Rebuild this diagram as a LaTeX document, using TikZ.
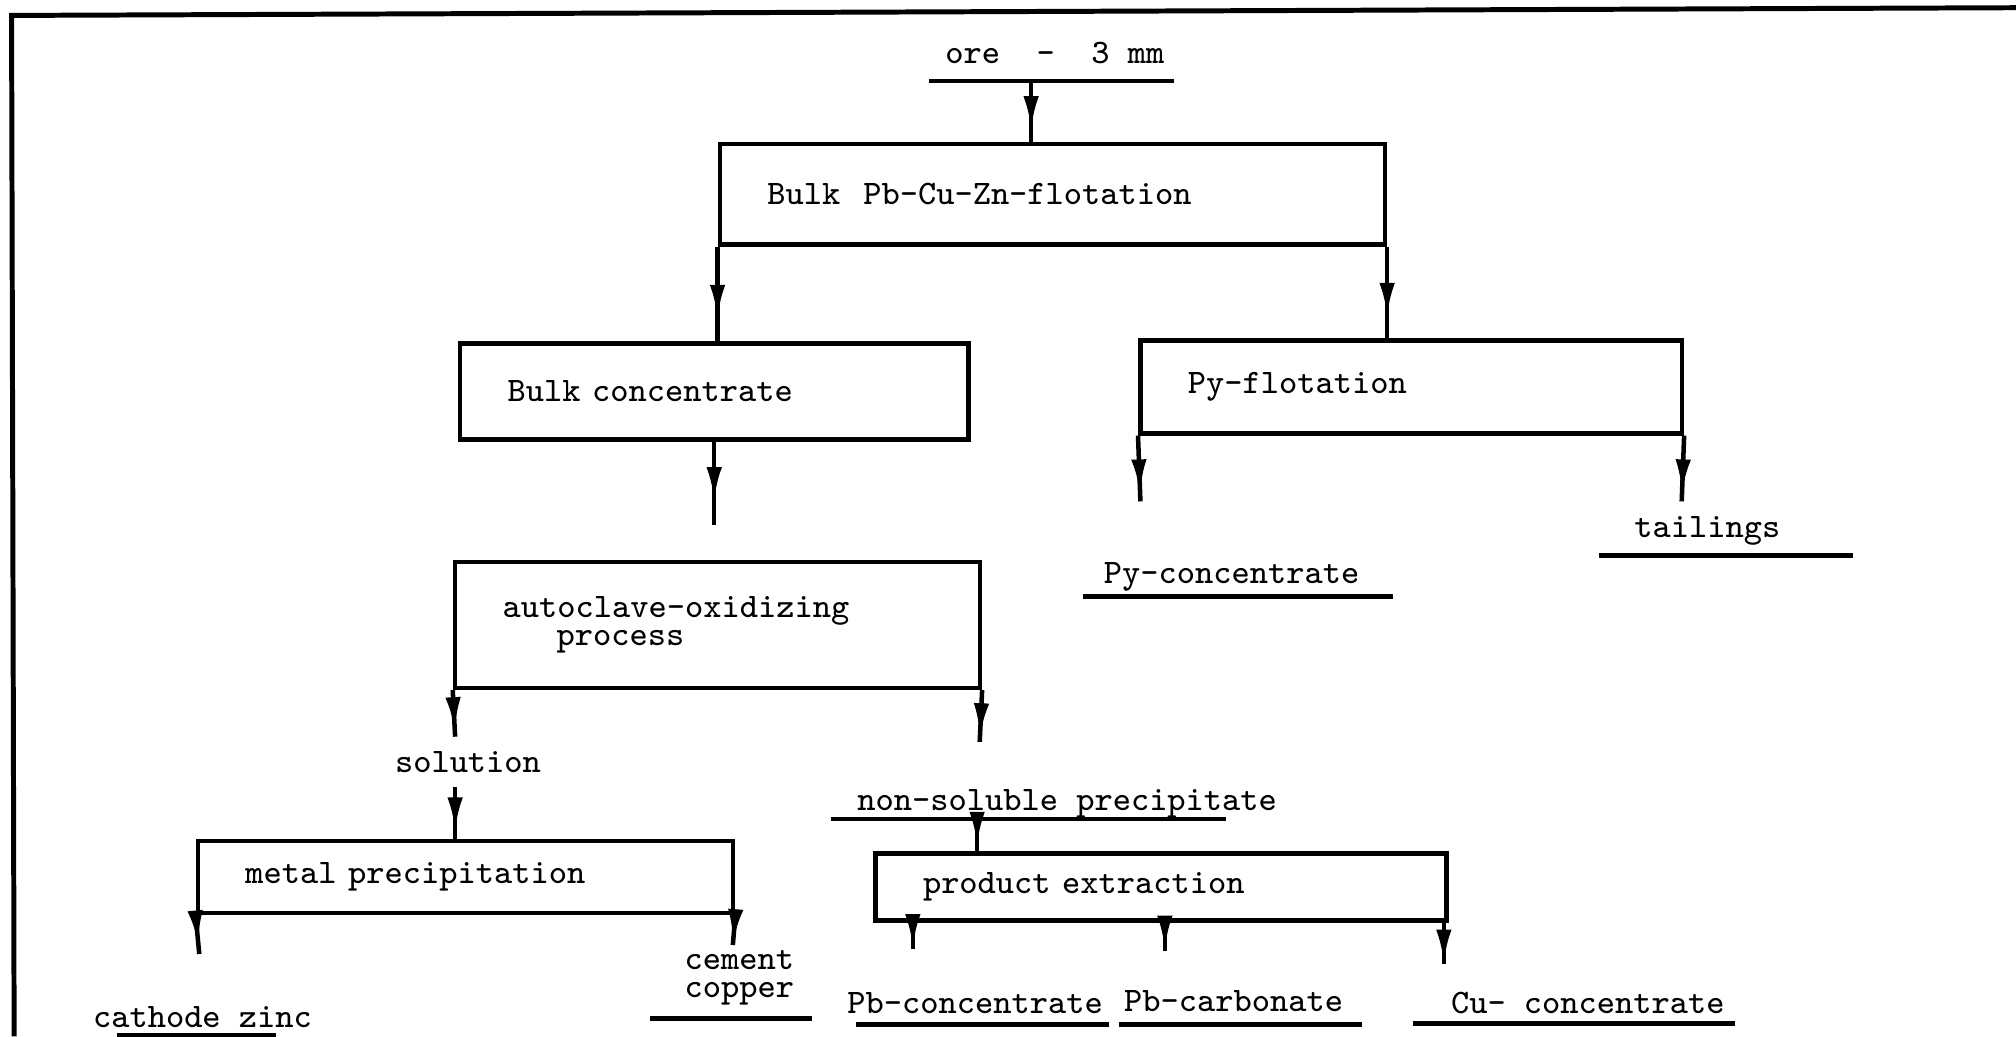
\documentclass[tikz,border=0pt]{standalone}
\usepackage{tikz}
\usetikzlibrary{arrows.meta, calc, positioning, decorations.markings}

\begin{document}
\begin{tikzpicture}[
		x=0.01cm, y=-0.01cm,
		proc/.style={draw, line width=1pt, inner xsep=0.37cm, inner ysep=0pt, align=left,
			font=\ttfamily\fontsize{7.6}{6.2}\selectfont},
		prod/.style={inner sep=0pt, anchor=base, align=center,
			font=\ttfamily\fontsize{7.6}{6.2}\selectfont},
		uline/.style n args={3}{append after command={
			([xshift=#1cm,yshift=-#3cm]\tikzlastnode.base west) edge[-, line width=1.1pt]
			([xshift=#2cm,yshift=-#3cm]\tikzlastnode.base east)}},
		flow/.style={line width=1pt, postaction={decorate},
			decoration={markings, mark=at position #1 with {\arrow{Latex[length=2.6mm,width=1.2mm]}}}},
		flow/.default=0.8,
		frame/.style={line width=1.1pt}
		]
	\useasboundingbox (0,0) rectangle (1568,806);

	% --- cadre ---
	\draw[frame] (11,806) -- (9,12) -- (1568,6);

	% --- boites ---
	\node[proc, text width=4.43cm, minimum height=0.78cm] (flot) at (818.5,151) {Bulk~~Pb-Cu-Zn-flotation};
	\node[proc, text width=3.21cm, minimum height=0.75cm] (conc) at (555.5,304.5) {Bulk concentrate};
	\node[proc, text width=3.47cm, minimum height=0.72cm] (pyflot) at (1097.5,301) {Py-flotation};
	\node[proc, text width=3.34cm, minimum height=0.98cm] (auto) at (558,486) {autoclave-oxidizing\\\hspace*{0.42cm}process};
	\node[proc, text width=3.42cm, minimum height=0.56cm] (metal) at (362,682) {metal precipitation};
	\node[proc, text width=3.70cm, minimum height=0.52cm] (extract) at (903,690) {product extraction};

	% --- produits ---
	\node[prod, uline={-0.12}{0.07}{0.14}] (ore) at (820.5,49) {ore~~-~~3~mm};
	\node[prod, uline={-0.16}{0.25}{0.10}] (pyconc) at (958,454) {Py-concentrate};
	\node[prod, uline={-0.27}{0.56}{0.14}] (tail) at (1328,418) {tailings};
	\node[prod] (solution) at (364,601) {solution};
	\node[prod, uline={-0.20}{-0.40}{0.07}] (nonsol) at (830,630) {non-soluble precipitate};
	\node[prod, uline={0.19}{-0.29}{0.065}] (zinc) at (157.5,799) {cathode zinc};
	\node[prod, uline={-0.26}{0.13}{0.16}] (cement) at (575,776) {cement\\copper};
	\node[prod, uline={0.07}{0.04}{0.09}] (pbconc) at (758.5,788) {Pb-concentrate};
	\node[prod, uline={-0.03}{0.14}{0.10}] (pbcarb) at (959.5,787) {Pb-carbonate};
	\node[prod, uline={-0.29}{0.07}{0.08}] (cuconc) at (1235,788) {Cu- concentrate};

	% bouts libres des fleches
	\coordinate (orefoot) at (802,63);
	\coordinate (bulkend) at (558,408);
	\coordinate (pyend) at (887,390);
	\coordinate (tailend) at (1308,390);
	\coordinate (solend) at (354,573);
	\coordinate (precend) at (762,577);
	\coordinate (solfoot) at (354,612);
	\coordinate (precfoot) at (760,638);
	\coordinate (zincend) at (155,742);
	\coordinate (cementend) at (570,735);
	\coordinate (pbend) at (710,738);
	\coordinate (carbend) at (906,740);
	\coordinate (cuend) at (1123,750);

	% --- fleches ---
	\draw[flow=0.8] (orefoot) -- (orefoot |- flot.north);
	\draw[flow=0.76] (flot.south west) -- (flot.south west |- conc.north);
	\draw[flow=0.76] (flot.south east) -- (flot.south east |- pyflot.north);
	\draw[flow=0.71] (conc.south) -- (conc.south |- bulkend);
	\draw[flow=0.87] (pyflot.south west) -- (pyend);
	\draw[flow=0.87] (pyflot.south east) -- (tailend);
	\draw[flow=0.87] (auto.south west) -- (solend);
	\draw[flow=0.9] (auto.south east) -- (precend);
	\draw[flow=0.85] (solfoot) -- (solfoot |- metal.north);
	\draw[flow=0.8] (precfoot) -- (precfoot |- extract.north);
	\draw[flow=0.74] (metal.south west) -- (zincend);
	\draw[flow=0.92] (metal.south east) -- (cementend);
	\draw[flow=0.95] (pbend |- extract.south) -- (pbend);
	\draw[flow=0.92] (carbend |- extract.south) -- (carbend);
	\draw[flow=0.97] (cuend |- extract.south) -- (cuend);

\end{tikzpicture}
\end{document}
